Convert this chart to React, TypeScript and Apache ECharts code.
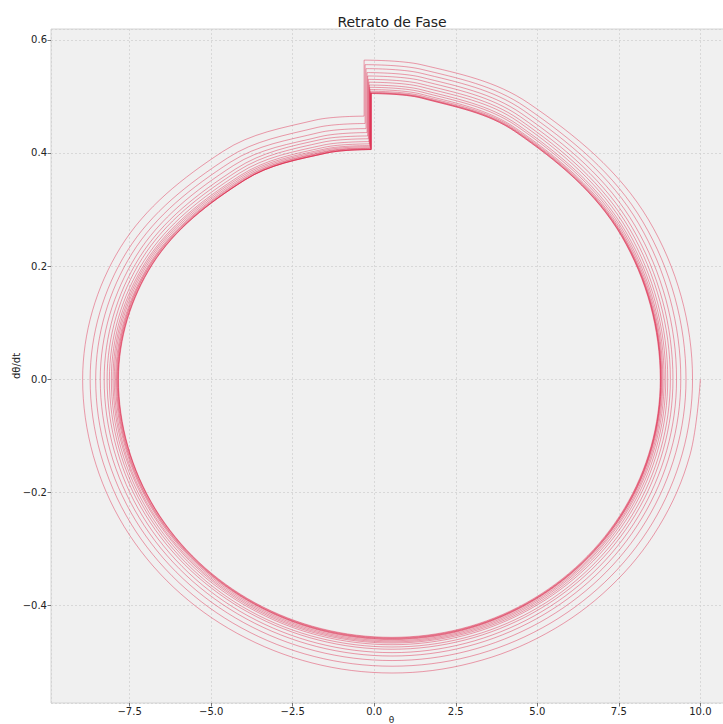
import React, { useEffect, useRef } from "react";
import * as echarts from "echarts";

// Trajectory arcs (theta, dtheta/dt): each arc runs from the
// top just after a kick, clockwise round the loop, to the top just before the next kick.
const arcs: number[][][] = [
  [[10.0, 0], [9.68, -0.134], [8.73, -0.26], [7.23, -0.367], [5.28, -0.449], [3.0, -0.501], [0.55, -0.519], [-4.2, -0.449], [-7.67, -0.26], [-8.94, 0], [-7.78, 0.233], [-4.63, 0.403], [-1.81, 0.458], [-0.31, 0.465]],
  [[-0.31, 0.564], [1.44, 0.556], [4.73, 0.488], [8.41, 0.282], [9.76, 0], [8.53, -0.254], [5.16, -0.439], [0.55, -0.507], [-4.08, -0.439], [-7.47, -0.254], [-8.71, 0], [-7.58, 0.226], [-4.5, 0.391], [-1.75, 0.445], [-0.28, 0.452]],
  [[-0.28, 0.556], [1.43, 0.548], [4.64, 0.481], [8.24, 0.278], [9.56, 0], [8.35, -0.249], [5.06, -0.43], [0.55, -0.497], [-4.0, -0.43], [-7.32, -0.249], [-8.54, 0], [-7.43, 0.222], [-4.4, 0.384], [-1.69, 0.436], [-0.25, 0.443]],
  [[-0.25, 0.549], [1.43, 0.541], [4.58, 0.475], [8.11, 0.275], [9.4, 0], [8.21, -0.245], [4.98, -0.423], [0.55, -0.489], [-3.93, -0.423], [-7.2, -0.245], [-8.4, 0], [-7.3, 0.218], [-4.31, 0.378], [-1.64, 0.429], [-0.22, 0.436]],
  [[-0.22, 0.542], [1.43, 0.534], [4.53, 0.469], [8.0, 0.271], [9.27, 0], [8.1, -0.242], [4.91, -0.418], [0.55, -0.483], [-3.87, -0.418], [-7.1, -0.242], [-8.28, 0], [-7.2, 0.215], [-4.24, 0.372], [-1.61, 0.424], [-0.2, 0.43]],
  [[-0.2, 0.536], [1.43, 0.528], [4.48, 0.464], [7.91, 0.268], [9.16, 0], [8.01, -0.239], [4.86, -0.413], [0.55, -0.477], [-3.82, -0.413], [-7.02, -0.239], [-8.19, 0], [-7.12, 0.213], [-4.19, 0.368], [-1.57, 0.419], [-0.18, 0.425]],
  [[-0.18, 0.53], [1.43, 0.522], [4.45, 0.459], [7.84, 0.265], [9.08, 0], [7.94, -0.237], [4.82, -0.41], [0.55, -0.473], [-3.79, -0.41], [-6.96, -0.237], [-8.12, 0], [-7.05, 0.21], [-4.14, 0.364], [-1.55, 0.414], [-0.16, 0.42]],
  [[-0.16, 0.525], [1.43, 0.517], [4.42, 0.455], [7.77, 0.263], [9.0, 0], [7.87, -0.235], [4.78, -0.406], [0.55, -0.469], [-3.76, -0.406], [-6.91, -0.235], [-8.06, 0], [-7.0, 0.208], [-4.11, 0.36], [-1.53, 0.41], [-0.15, 0.416]],
  [[-0.15, 0.52], [1.43, 0.512], [4.4, 0.45], [7.72, 0.26], [8.94, 0], [7.82, -0.233], [4.75, -0.404], [0.55, -0.466], [-3.73, -0.404], [-6.86, -0.233], [-8.01, 0], [-6.96, 0.207], [-4.08, 0.358], [-1.51, 0.407], [-0.14, 0.413]],
  [[-0.14, 0.516], [1.43, 0.508], [4.38, 0.447], [7.68, 0.258], [8.89, 0], [7.77, -0.232], [4.72, -0.402], [0.55, -0.464], [-3.71, -0.402], [-6.83, -0.232], [-7.97, 0], [-6.92, 0.206], [-4.05, 0.356], [-1.49, 0.405], [-0.13, 0.411]],
  [[-0.13, 0.512], [1.43, 0.504], [4.36, 0.443], [7.65, 0.256], [8.85, 0], [7.74, -0.231], [4.7, -0.4], [0.55, -0.462], [-3.69, -0.4], [-6.79, -0.231], [-7.93, 0], [-6.88, 0.205], [-4.03, 0.354], [-1.48, 0.403], [-0.12, 0.409]],
  [[-0.12, 0.509], [1.44, 0.501], [4.35, 0.441], [7.62, 0.255], [8.82, 0], [7.71, -0.23], [4.69, -0.398], [0.55, -0.46], [-3.68, -0.398], [-6.77, -0.23], [-7.9, 0], [-6.86, 0.204], [-4.01, 0.353], [-1.47, 0.402], [-0.11, 0.408]],
  [[-0.11, 0.507], [1.44, 0.499], [4.35, 0.439], [7.61, 0.254], [8.8, 0], [7.7, -0.23], [4.68, -0.397], [0.55, -0.459], [-3.67, -0.397], [-6.75, -0.23], [-7.88, 0], [-6.84, 0.204], [-3.99, 0.352], [-1.45, 0.401], [-0.1, 0.407]],
  [[-0.1, 0.506], [1.45, 0.498], [4.35, 0.438], [7.6, 0.253], [8.79, 0], [7.69, -0.229], [4.67, -0.397], [0.55, -0.458], [-3.66, -0.397], [-6.73, -0.229], [-7.86, 0], [-6.82, 0.203], [-3.98, 0.352], [-1.45, 0.4], [-0.1, 0.406]],
  [[-0.1, 0.505], [1.45, 0.497], [4.34, 0.437], [7.59, 0.253], [8.78, 0], [7.68, -0.229], [4.67, -0.396], [0.55, -0.457], [-3.65, -0.396], [-6.72, -0.229], [-7.85, 0], [-6.81, 0.203], [-3.97, 0.352], [-1.44, 0.4], [-0.09, 0.406]],
  [[-0.09, 0.505], [1.45, 0.497], [4.34, 0.437], [7.58, 0.253], [8.77, 0], [7.67, -0.228], [4.66, -0.395], [0.55, -0.456], [-3.65, -0.395], [-6.72, -0.228], [-7.84, 0], [-6.8, 0.203], [-3.97, 0.352], [-1.44, 0.4], [-0.09, 0.406]],
];

// Kicks (vertical jumps) at the end of each arc
const kickTheta = [-0.31, -0.28, -0.25, -0.22, -0.2, -0.18, -0.16, -0.15, -0.14, -0.13, -0.12, -0.11, -0.1, -0.1, -0.09, -0.09];
const kickLow = [0.465, 0.452, 0.443, 0.436, 0.43, 0.425, 0.42, 0.416, 0.413, 0.411, 0.409, 0.408, 0.407, 0.406, 0.406, 0.406];
const kickHigh = [0.564, 0.556, 0.549, 0.542, 0.536, 0.53, 0.525, 0.52, 0.516, 0.512, 0.509, 0.507, 0.506, 0.505, 0.505, 0.505];

const TITLE = "Retrato de Fase";
const X_NAME = "θ";
const Y_NAME = "dθ/dt";

const FONT = "DejaVu Sans";
const LINE_COLOR = "rgba(220,20,60,0.48)";

const fmt = (v: number) => v.toFixed(1).replace("-", "\u2212");

export default function App() {
  const ref = useRef<HTMLDivElement>(null);
  useEffect(() => {
    if (!ref.current) return;
    const chart = echarts.init(ref.current, undefined, { renderer: "svg" });
    const series: any[] = [];
    arcs.forEach((arc, i) => {
      series.push({
        type: "line",
        data: arc,
        smooth: 0.35,
        showSymbol: false,
        symbol: "none",
        silent: true,
        lineStyle: { color: LINE_COLOR, width: 0.85 },
      });
      series.push({
        type: "line",
        data: [[kickTheta[i], kickLow[i]], [kickTheta[i], kickHigh[i]]],
        showSymbol: false,
        symbol: "none",
        silent: true,
        lineStyle: { color: LINE_COLOR, width: 0.85 },
      });
    });

    const axisCommon = {
      type: "value" as const,
      axisLine: { show: false, onZero: false },
      axisTick: { show: true, length: 3.5, lineStyle: { color: "#555", width: 0.8 } },
      splitLine: { show: true, lineStyle: { color: "#d2d2d2", width: 0.8, type: [2, 2] } },
      nameLocation: "middle" as const,
      nameMoveOverlap: false,
    };

    chart.setOption({
      animation: false,
      backgroundColor: "#ffffff",
      title: {
        text: TITLE,
        left: 387,
        top: 10,
        textAlign: "center",
        textStyle: { fontSize: 14, fontWeight: "normal", color: "#222", fontFamily: FONT },
      },
      grid: {
        left: 51,
        right: -9,
        top: 29,
        bottom: 21,
        show: true,
        containLabel: false,
        outerBoundsMode: "none",
        backgroundColor: "#f0f0f0",
        borderColor: "#d4d4d4",
        borderWidth: 1,
      },
      xAxis: {
        ...axisCommon,
        min: -9.91,
        max: 10.97,
        minInterval: 2.5,
        maxInterval: 2.5,
        splitNumber: 8,
        name: X_NAME,
        nameGap: 12,
        nameTextStyle: { fontSize: 9, lineHeight: 9, color: "#222", fontFamily: FONT },
        axisLabel: {
          fontSize: 10,
          color: "#222",
          fontFamily: FONT,
          margin: 3,
          showMinLabel: false,
          showMaxLabel: false,
          formatter: fmt,
        },
      },
      yAxis: {
        ...axisCommon,
        min: -0.572,
        max: 0.619,
        minInterval: 0.2,
        maxInterval: 0.2,
        splitNumber: 6,
        name: Y_NAME,
        nameGap: 30,
        nameTextStyle: { fontSize: 10, color: "#222", fontFamily: FONT },
        axisLabel: {
          fontSize: 10,
          color: "#222",
          fontFamily: FONT,
          margin: 4,
          showMinLabel: false,
          showMaxLabel: false,
          formatter: fmt,
        },
      },
      series,
    });
    return () => chart.dispose();
  }, []);
  return (
    <div
      ref={ref}
      style={{ position: "fixed", left: 0, top: 0, width: 723, height: 724, background: "#fff" }}
    />
  );
}
